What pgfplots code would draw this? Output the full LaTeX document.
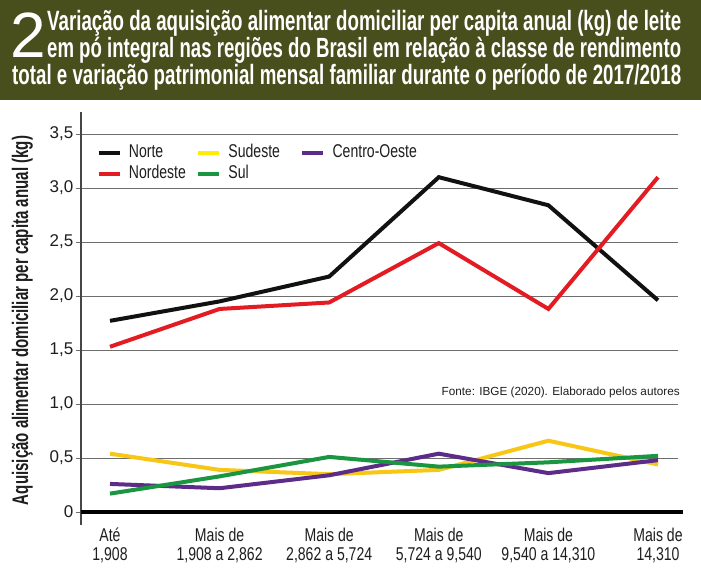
\documentclass[border=0pt]{standalone}
\usepackage{fontspec}
\setmainfont{Liberation Sans}
\newfontfamily\titlefont{Liberation Sans}[FakeStretch=0.67]
\newfontfamily\condfont{Liberation Sans}[FakeStretch=0.76]
\usepackage{graphicx}
\usepackage{pgfplots}
\usepackage{pgfplotstable}
\pgfplotsset{compat=1.18}
\definecolor{titlebg}{RGB}{72,78,28}
\definecolor{cnorte}{RGB}{17,17,17}
\definecolor{cnordeste}{RGB}{227,28,36}
\definecolor{csudeste}{RGB}{248,198,20}
\definecolor{csudesteleg}{RGB}{255,236,0}
\definecolor{csul}{RGB}{26,150,64}
\definecolor{ccentro}{RGB}{92,44,136}
\definecolor{gridgray}{RGB}{110,110,110}
\definecolor{axisgray}{RGB}{70,70,70}
\definecolor{txt}{RGB}{30,30,30}

\pgfplotstableread{
x norte nordeste sudeste sul centro
0 1.77 1.53 0.54 0.17 0.26
1 1.95 1.88 0.39 0.33 0.22
2 2.18 1.94 0.35 0.51 0.34
3 3.10 2.49 0.39 0.42 0.54
4 2.84 1.88 0.66 0.46 0.36
5 1.96 3.10 0.44 0.52 0.48
}\datatable

\begin{document}
\begin{tikzpicture}
\path[use as bounding box, fill=white] (0pt,0pt) rectangle (701pt,576pt);
% title band
\fill[titlebg] (0pt,476pt) rectangle (701pt,576pt);
\node[anchor=base west, inner sep=0pt, text=white] at (10pt,518pt)
  {\fontsize{64}{64}\selectfont 2};
\node[anchor=base west, inner sep=0pt, text=white] at (47pt,545pt)
  {\resizebox{634pt}{!}{\titlefont\bfseries\fontsize{24}{24}\selectfont Variação da aquisição alimentar domiciliar per capita anual (kg) de leite}};
\node[anchor=base west, inner sep=0pt, text=white] at (47pt,518pt)
  {\resizebox{634pt}{!}{\titlefont\bfseries\fontsize{24}{24}\selectfont em pó integral nas regiões do Brasil em relação à classe de rendimento}};
\node[anchor=base west, inner sep=0pt, text=white] at (12pt,491pt)
  {\resizebox{669pt}{!}{\titlefont\bfseries\fontsize{24}{24}\selectfont total e variação patrimonial mensal familiar durante o período de 2017/2018}};
% y label
\node[anchor=base, inner sep=0pt, rotate=90, text=txt] at (28pt,255.5pt)
  {\resizebox{369pt}{!}{\titlefont\bfseries\fontsize{18}{18}\selectfont Aquisição alimentar domiciliar per capita anual (kg)}};

\begin{axis}[
  at={(81pt,64pt)}, anchor=south west,
  scale only axis, width=597pt, height=400pt,
  xmin=-0.2646, xmax=5.1825, ymin=0, ymax=3.7037,
  clip=false,
  axis line style={draw=none},
  xtick={0,1,2,3,4,5},
  xticklabels={{Até\\1,908},{Mais de\\1,908 a 2,862},{Mais de\\2,862 a 5,724},{Mais de\\5,724 a 9,540},{Mais de\\9,540 a 14,310},{Mais de\\14,310}},
  xtick style={draw=none},
  xticklabel style={align=center, font=\condfont\fontsize{18.5}{19}\selectfont, inner sep=0pt, yshift=-11pt, text=txt},
  ytick={0,0.5,1,1.5,2,2.5,3,3.5},
  yticklabels={{0},{0,5},{1,0},{1,5},{2,0},{2,5},{3,0},{3,5}},
  yticklabel style={font=\fontsize{17}{17}\selectfont, inner sep=0pt, xshift=-2.5pt, text=txt},
  ytick pos=left, xtick pos=bottom,
  tick align=outside, major tick length=5pt,
  ytick style={draw=gridgray, line width=0.9pt},
  ymajorgrids, grid style={draw=gridgray, line width=0.9pt},
  legend columns=3,
  legend style={at={(axis description cs:0.0255,0.9205)}, anchor=north west,
    draw=none, fill=none, inner sep=0pt, row sep=6.3pt,
    font=\condfont\fontsize{18.5}{18.5}\selectfont,
    nodes={inner sep=0pt, text=txt},
    cells={anchor=base west},
    /tikz/every odd column/.style={column sep=7pt},
    /tikz/column 2/.style={column sep=10pt},
    /tikz/column 4/.style={column sep=20pt}},
  legend image code/.code={\draw[#1, line width=4.5pt] (0pt,4.5pt) -- (21pt,4.5pt);},
]
\addplot[csudeste, line width=4pt, forget plot] table[x=x, y=sudeste] {\datatable};
\addplot[ccentro, line width=4pt, forget plot] table[x=x, y=centro] {\datatable};
\addplot[csul, line width=4pt, forget plot] table[x=x, y=sul] {\datatable};
\addplot[cnorte, line width=4pt, forget plot] table[x=x, y=norte] {\datatable};
\addplot[cnordeste, line width=4pt, forget plot] table[x=x, y=nordeste] {\datatable};

\addlegendimage{cnorte}\addlegendentry{Norte}
\addlegendimage{csudesteleg}\addlegendentry{Sudeste}
\addlegendimage{ccentro}\addlegendentry{Centro-Oeste}
\addlegendimage{cnordeste}\addlegendentry{Nordeste}
\addlegendimage{csul}\addlegendentry{Sul}

\draw[axisgray, line width=1.6pt] (axis cs:-0.2646,-0.12) -- (axis cs:-0.2646,3.7037);
\draw[black, line width=4.5pt] (axis cs:-0.2646,0) -- (axis cs:5.228,0);
\node[anchor=base east, inner sep=0pt, text=txt] at (axis cs:5.2,1.083)
  {\resizebox{238pt}{!}{\fontsize{13}{13}\selectfont Fonte: IBGE (2020). Elaborado pelos autores}};
\end{axis}
\end{tikzpicture}
\end{document}
